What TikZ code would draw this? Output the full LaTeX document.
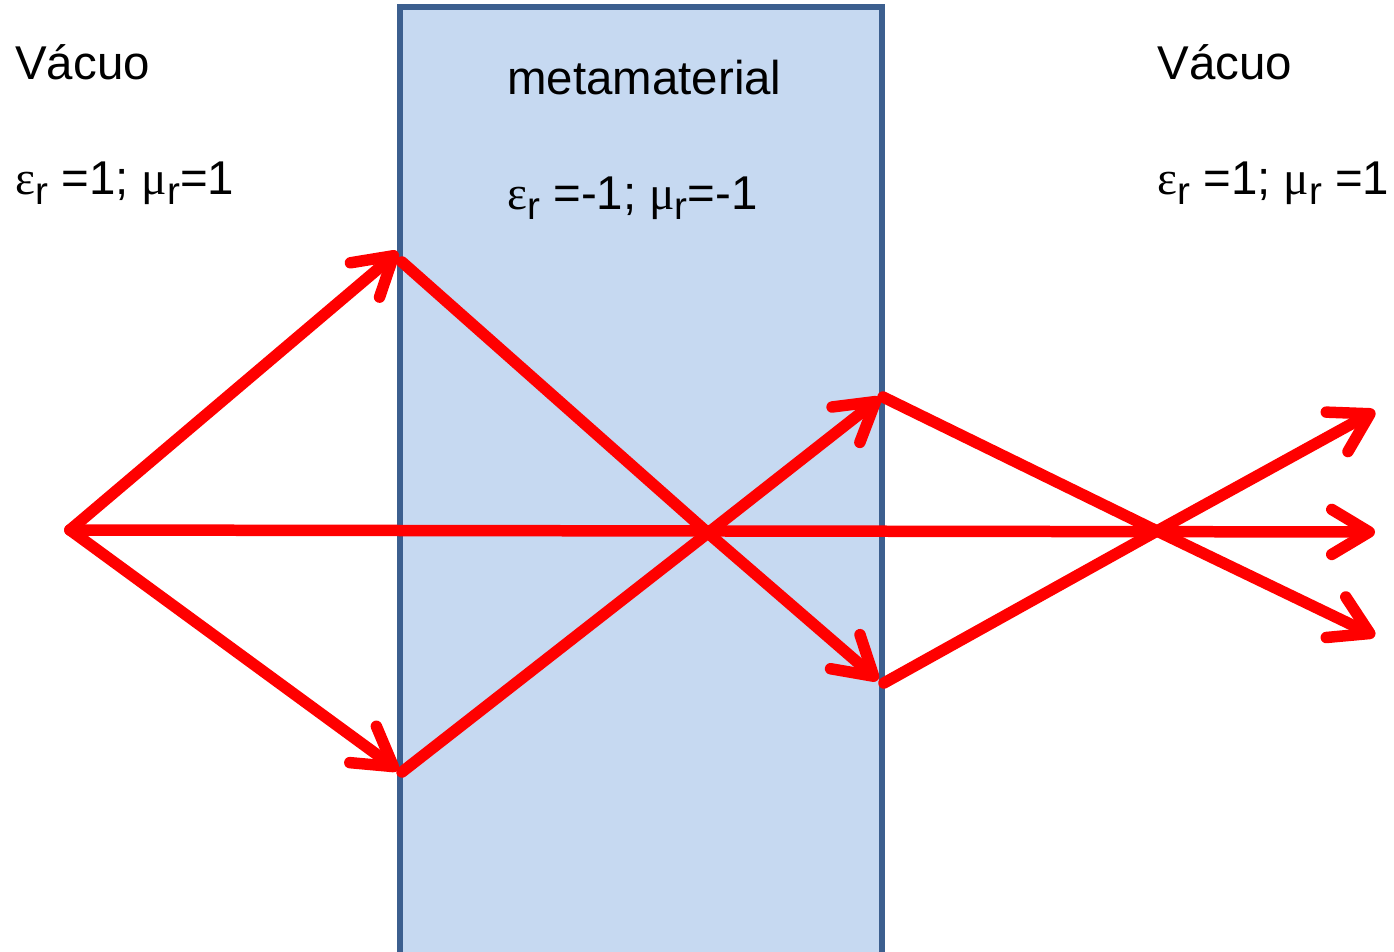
\documentclass[tikz,border=0pt]{standalone}
\usepackage{fontspec}
\setmainfont{Liberation Sans}
\newfontfamily\greekfont{Liberation Serif}
\usetikzlibrary{arrows.meta}
\definecolor{slabfill}{HTML}{C6D9F1}
\definecolor{slabedge}{HTML}{3C5F8F}
\newcommand{\subr}{\raisebox{-0.2cm}{\fontsize{22}{22}\selectfont r}}
\newcommand{\epsr}{{\greekfont ε}\subr}
\newcommand{\mur}{{\greekfont μ}\subr}
\tikzset{
  ray/.style={draw=red, line width=0.23cm, line cap=round, line join=round},
  rayarrow/.style={ray, -{Straight Barb[length=0.75cm,width=0.9cm,line cap=round,line join=round]}},
  txt/.style={anchor=base west, inner sep=0pt, font=\fontsize{27}{32}\selectfont}
}
\begin{document}
\begin{tikzpicture}[x=0.02cm,y=-0.02cm]
	\useasboundingbox (0,0) rectangle (1394,952);
	\clip (0,0) rectangle (1394,952);
	% slab
	\draw[fill=slabfill, draw=slabedge, line width=0.12cm] (400,7) rectangle (882,990);
	% texts
	\node[txt] (vacL) at (15,80) {Vácuo};
	\node[txt] (parL) at (15,195) {\epsr{} =1; \mur=1};
	\node[txt] (meta) at (507,95) {metamaterial};
	\node[txt] (parM) at (507,210) {\epsr{} =-1; \mur=-1};
	\node[txt] (vacR) at (1157,80) {Vácuo};
	\node[txt] (parR) at (1157,195) {\epsr{} =1; \mur{} =1};
	% points
	\coordinate (src) at (70,530);
	\coordinate (hitA) at (398,252);
	\coordinate (inA) at (402,262);
	\coordinate (hitB) at (398,770);
	\coordinate (inB) at (402,772);
	\coordinate (focA) at (708,533);
	\coordinate (outA) at (878,680);
	\coordinate (outB) at (880,398);
	\coordinate (leaveA) at (884,683);
	\coordinate (leaveB) at (883,397);
	\coordinate (focB) at (1157,531);
	\coordinate (endA) at (1375,411);
	\coordinate (endB) at (1375,636);
	\coordinate (endC) at (1375,532);
	% rays
	\draw[rayarrow] (src) -- (hitA);
	\draw[rayarrow] (src) -- (hitB);
	\draw[rayarrow] (src) -- (endC);
	\draw[rayarrow] (inA) -- (focA) -- (outA);
	\draw[rayarrow] (inB) -- (focA) -- (outB);
	\draw[rayarrow] (leaveA) -- (focB) -- (endA);
	\draw[rayarrow] (leaveB) -- (focB) -- (endB);
\end{tikzpicture}
\end{document}
